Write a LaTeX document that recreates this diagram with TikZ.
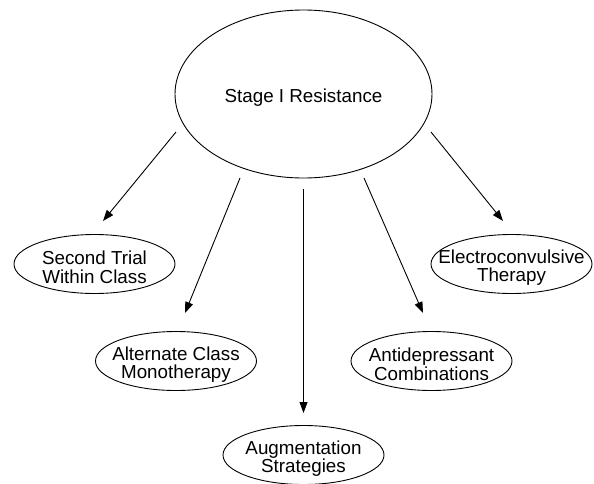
\documentclass[tikz,border=0pt]{standalone}
\usepackage{fontspec}
\setmainfont{Liberation Sans}
\usetikzlibrary{shapes.geometric,arrows.meta,calc}
\begin{document}
\begin{tikzpicture}[x=1pt,y=-1pt,
  txt/.style={font=\fontsize{18.8}{18.6}\selectfont, align=center, inner sep=0pt, yshift=-3.5pt},
  bubble/.style={draw, ellipse, line width=0.9pt, inner sep=0pt, minimum width=161pt, minimum height=59pt},
  bigbubble/.style={draw, ellipse, line width=0.9pt, inner sep=0pt, minimum width=257pt, minimum height=168pt},
  link/.style={line width=0.9pt, -{Triangle[length=11pt,width=8pt]}}]
\useasboundingbox (0,0) rectangle (594,483);
\node[bigbubble, label={[txt]center:Stage I Resistance}] (main) at (303.5,94) {};
\node[bubble, label={[txt]center:{Second Trial\\Within Class}}] (second) at (94.5,264) {};
\node[bubble, label={[txt]center:{Alternate Class\\Monotherapy}}] (alt) at (176,361) {};
\node[bubble, label={[txt]center:{Augmentation\\Strategies}}] (aug) at (303.5,455) {};
\node[bubble, label={[txt]center:{Antidepressant\\Combinations}}] (anti) at (431.5,361) {};
\node[bubble, label={[txt]center:{Electroconvulsive\\Therapy}}] (ect) at (511.5,264) {};
\coordinate (s1) at ($(main.center)+(-127.5,38)$);
\coordinate (e1) at ($(second.center)+(8.5,-43)$);
\coordinate (s2) at ($(main.center)+(-63.5,84)$);
\coordinate (e2) at ($(alt.center)+(9,-48)$);
\coordinate (s3) at ($(main.center)+(0,95)$);
\coordinate (e3) at ($(aug.center)+(0,-42)$);
\coordinate (s4) at ($(main.center)+(60.5,84)$);
\coordinate (e4) at ($(anti.center)+(-8.5,-48)$);
\coordinate (s5) at ($(main.center)+(127.5,38)$);
\coordinate (e5) at ($(ect.center)+(-8.5,-43)$);
\draw[link] (s1) -- (e1);
\draw[link] (s2) -- (e2);
\draw[link] (s3) -- (e3);
\draw[link] (s4) -- (e4);
\draw[link] (s5) -- (e5);
\end{tikzpicture}
\end{document}
